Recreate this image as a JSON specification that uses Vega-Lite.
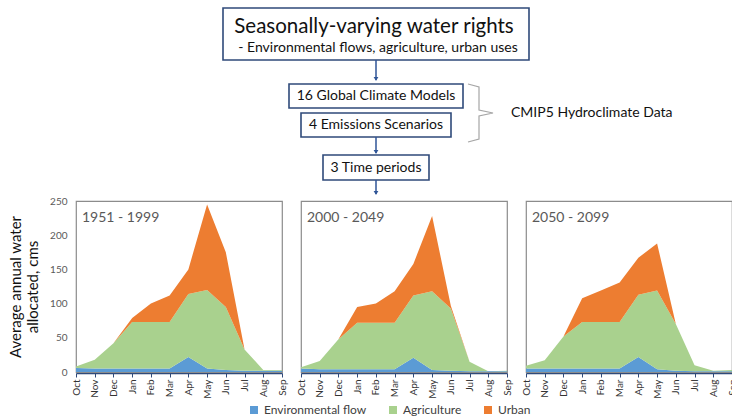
{
  "$schema": "https://vega.github.io/schema/vega-lite/v6.json",
  "background": "white",
  "padding": {"left": 8, "top": 0, "right": 2, "bottom": 2},
  "config": {"font": "Lato", "view": {"stroke": "#8c8c8c", "strokeWidth": 1.2}},
  "datasets": {
    "boxes": [
      {"name": "rights", "x0": 147, "x1": 453, "y0": 8, "y1": 60},
      {"name": "gcm", "x0": 213, "x1": 387, "y0": 84, "y1": 108},
      {"name": "emis", "x0": 225, "x1": 375, "y0": 113, "y1": 137},
      {"name": "time", "x0": 247, "x1": 353, "y0": 155, "y1": 180}
    ],
    "arrows": [
      {"x": 300, "y0": 60, "y1": 80, "head": 79},
      {"x": 300, "y0": 137, "y1": 153, "head": 152},
      {"x": 300, "y0": 180, "y1": 194, "head": 193}
    ],
    "bracket": [
      {"i": 1, "x": 392, "y": 84},
      {"i": 2, "x": 403, "y": 87},
      {"i": 3, "x": 403, "y": 110},
      {"i": 4, "x": 417, "y": 113},
      {"i": 5, "x": 403, "y": 116},
      {"i": 6, "x": 403, "y": 139},
      {"i": 7, "x": 392, "y": 142}
    ],
    "nodes": [
      {"kind": "title", "label": "Seasonally-varying water rights", "x": 298, "y": 27},
      {"kind": "sub", "label": "- Environmental flows, agriculture, urban uses", "x": 302, "y": 48},
      {"kind": "box", "label": "16 Global Climate Models", "x": 300, "y": 96},
      {"kind": "box", "label": "4 Emissions Scenarios", "x": 300, "y": 125},
      {"kind": "box", "label": "3 Time periods", "x": 300, "y": 168},
      {"kind": "note", "label": "CMIP5 Hydroclimate Data", "x": 435, "y": 113}
    ],
    "alloc": [
      {"p": "1951 - 1999", "m": "Oct", "Environmental flow": 6, "Agriculture": 2, "Urban": 0},
      {"p": "1951 - 1999", "m": "Nov", "Environmental flow": 5, "Agriculture": 13, "Urban": 0},
      {"p": "1951 - 1999", "m": "Dec", "Environmental flow": 5, "Agriculture": 37, "Urban": 0},
      {"p": "1951 - 1999", "m": "Jan", "Environmental flow": 5, "Agriculture": 68, "Urban": 6},
      {"p": "1951 - 1999", "m": "Feb", "Environmental flow": 5, "Agriculture": 68, "Urban": 27},
      {"p": "1951 - 1999", "m": "Mar", "Environmental flow": 5, "Agriculture": 68, "Urban": 39},
      {"p": "1951 - 1999", "m": "Apr", "Environmental flow": 22, "Agriculture": 92, "Urban": 36},
      {"p": "1951 - 1999", "m": "May", "Environmental flow": 5, "Agriculture": 115, "Urban": 125},
      {"p": "1951 - 1999", "m": "Jun", "Environmental flow": 3, "Agriculture": 92, "Urban": 80},
      {"p": "1951 - 1999", "m": "Jul", "Environmental flow": 2, "Agriculture": 31, "Urban": 0},
      {"p": "1951 - 1999", "m": "Aug", "Environmental flow": 2, "Agriculture": 1, "Urban": 0},
      {"p": "1951 - 1999", "m": "Sep", "Environmental flow": 2, "Agriculture": 1, "Urban": 0},
      {"p": "2000 - 2049", "m": "Oct", "Environmental flow": 5, "Agriculture": 2, "Urban": 0},
      {"p": "2000 - 2049", "m": "Nov", "Environmental flow": 4, "Agriculture": 12, "Urban": 0},
      {"p": "2000 - 2049", "m": "Dec", "Environmental flow": 4, "Agriculture": 44, "Urban": 0},
      {"p": "2000 - 2049", "m": "Jan", "Environmental flow": 4, "Agriculture": 68, "Urban": 23},
      {"p": "2000 - 2049", "m": "Feb", "Environmental flow": 4, "Agriculture": 68, "Urban": 28},
      {"p": "2000 - 2049", "m": "Mar", "Environmental flow": 4, "Agriculture": 68, "Urban": 46},
      {"p": "2000 - 2049", "m": "Apr", "Environmental flow": 21, "Agriculture": 91, "Urban": 46},
      {"p": "2000 - 2049", "m": "May", "Environmental flow": 3, "Agriculture": 115, "Urban": 110},
      {"p": "2000 - 2049", "m": "Jun", "Environmental flow": 2, "Agriculture": 91, "Urban": 4},
      {"p": "2000 - 2049", "m": "Jul", "Environmental flow": 1, "Agriculture": 14, "Urban": 0},
      {"p": "2000 - 2049", "m": "Aug", "Environmental flow": 1, "Agriculture": 0, "Urban": 0},
      {"p": "2000 - 2049", "m": "Sep", "Environmental flow": 1, "Agriculture": 1, "Urban": 0},
      {"p": "2050 - 2099", "m": "Oct", "Environmental flow": 5, "Agriculture": 4, "Urban": 0},
      {"p": "2050 - 2099", "m": "Nov", "Environmental flow": 5, "Agriculture": 12, "Urban": 0},
      {"p": "2050 - 2099", "m": "Dec", "Environmental flow": 5, "Agriculture": 47, "Urban": 0},
      {"p": "2050 - 2099", "m": "Jan", "Environmental flow": 5, "Agriculture": 68, "Urban": 35},
      {"p": "2050 - 2099", "m": "Feb", "Environmental flow": 5, "Agriculture": 68, "Urban": 46},
      {"p": "2050 - 2099", "m": "Mar", "Environmental flow": 5, "Agriculture": 68, "Urban": 58},
      {"p": "2050 - 2099", "m": "Apr", "Environmental flow": 22, "Agriculture": 91, "Urban": 54},
      {"p": "2050 - 2099", "m": "May", "Environmental flow": 4, "Agriculture": 115, "Urban": 69},
      {"p": "2050 - 2099", "m": "Jun", "Environmental flow": 2, "Agriculture": 68, "Urban": 0},
      {"p": "2050 - 2099", "m": "Jul", "Environmental flow": 1, "Agriculture": 9, "Urban": 0},
      {"p": "2050 - 2099", "m": "Aug", "Environmental flow": 1, "Agriculture": 1, "Urban": 0},
      {"p": "2050 - 2099", "m": "Sep", "Environmental flow": 1, "Agriculture": 2, "Urban": 0}
    ]
  },
  "spacing": 0,
  "vconcat": [
    {
      "width": 652,
      "height": 191,
      "view": {"stroke": null},
      "layer": [
        {
          "data": {"name": "boxes"},
          "mark": {"type": "rect", "fill": "white", "stroke": "#2F4A7A", "strokeWidth": 1.6},
          "encoding": {
            "x": {"field": "x0", "type": "quantitative", "scale": {"domain": [0, 652], "nice": false, "zero": false}, "axis": null},
            "x2": {"field": "x1"},
            "y": {"field": "y0", "type": "quantitative", "scale": {"domain": [0, 191], "nice": false, "zero": false, "reverse": true}, "axis": null},
            "y2": {"field": "y1"}
          }
        },
        {
          "data": {"name": "arrows"},
          "mark": {"type": "rule", "color": "#2F5597", "strokeWidth": 1.5},
          "encoding": {
            "x": {"field": "x", "type": "quantitative", "scale": {"domain": [0, 652], "nice": false, "zero": false}, "axis": null},
            "y": {"field": "y0", "type": "quantitative", "scale": {"domain": [0, 191], "nice": false, "zero": false, "reverse": true}, "axis": null},
            "y2": {"field": "y1"}
          }
        },
        {
          "data": {"name": "arrows"},
          "mark": {"type": "point", "shape": "triangle-down", "filled": true, "color": "#2F5597", "size": 22, "opacity": 1},
          "encoding": {
            "x": {"field": "x", "type": "quantitative", "scale": {"domain": [0, 652], "nice": false, "zero": false}, "axis": null},
            "y": {"field": "head", "type": "quantitative", "scale": {"domain": [0, 191], "nice": false, "zero": false, "reverse": true}, "axis": null}
          }
        },
        {
          "data": {"name": "bracket"},
          "mark": {"type": "line", "color": "#A6A6A6", "strokeWidth": 1.2},
          "encoding": {
            "x": {"field": "x", "type": "quantitative", "scale": {"domain": [0, 652], "nice": false, "zero": false}, "axis": null},
            "y": {"field": "y", "type": "quantitative", "scale": {"domain": [0, 191], "nice": false, "zero": false, "reverse": true}, "axis": null},
            "order": {"field": "i"}
          }
        },
        {
          "data": {"name": "nodes"},
          "transform": [{"filter": "datum.kind === 'title'"}],
          "mark": {"type": "text", "fontSize": 20.5, "color": "#111111", "baseline": "middle", "align": "center"},
          "encoding": {
            "x": {"field": "x", "type": "quantitative", "scale": {"domain": [0, 652], "nice": false, "zero": false}, "axis": null},
            "y": {"field": "y", "type": "quantitative", "scale": {"domain": [0, 191], "nice": false, "zero": false, "reverse": true}, "axis": null},
            "text": {"field": "label"}
          }
        },
        {
          "data": {"name": "nodes"},
          "transform": [{"filter": "datum.kind === 'sub'"}],
          "mark": {"type": "text", "fontSize": 14, "color": "#111111", "baseline": "middle", "align": "center"},
          "encoding": {
            "x": {"field": "x", "type": "quantitative", "scale": {"domain": [0, 652], "nice": false, "zero": false}, "axis": null},
            "y": {"field": "y", "type": "quantitative", "scale": {"domain": [0, 191], "nice": false, "zero": false, "reverse": true}, "axis": null},
            "text": {"field": "label"}
          }
        },
        {
          "data": {"name": "nodes"},
          "transform": [{"filter": "datum.kind === 'box'"}],
          "mark": {"type": "text", "fontSize": 14, "color": "#111111", "baseline": "middle", "align": "center"},
          "encoding": {
            "x": {"field": "x", "type": "quantitative", "scale": {"domain": [0, 652], "nice": false, "zero": false}, "axis": null},
            "y": {"field": "y", "type": "quantitative", "scale": {"domain": [0, 191], "nice": false, "zero": false, "reverse": true}, "axis": null},
            "text": {"field": "label"}
          }
        },
        {
          "data": {"name": "nodes"},
          "transform": [{"filter": "datum.kind === 'note'"}],
          "mark": {"type": "text", "fontSize": 14, "color": "#111111", "baseline": "middle", "align": "left"},
          "encoding": {
            "x": {"field": "x", "type": "quantitative", "scale": {"domain": [0, 652], "nice": false, "zero": false}, "axis": null},
            "y": {"field": "y", "type": "quantitative", "scale": {"domain": [0, 191], "nice": false, "zero": false, "reverse": true}, "axis": null},
            "text": {"field": "label"}
          }
        }
      ]
    },
    {
      "data": {"name": "alloc"},
      "transform": [
        {"fold": ["Environmental flow", "Agriculture", "Urban"], "as": ["use", "value"]},
        {"window": [{"op": "row_number", "as": "k"}], "groupby": ["p", "m"]}
      ],
      "facet": {"column": {"field": "p", "type": "nominal", "header": null}},
      "spacing": {"column": 17},
      "spec": {
        "width": 206,
        "height": 171,
        "layer": [
          {
            "mark": {"type": "area", "opacity": 1},
            "encoding": {
              "x": {
                "field": "m", "type": "ordinal",
                "sort": ["Oct", "Nov", "Dec", "Jan", "Feb", "Mar", "Apr", "May", "Jun", "Jul", "Aug", "Sep"],
                "scale": {"type": "point", "padding": 0},
                "axis": {"title": null, "labelAngle": -90, "labelFontSize": 10, "labelColor": "#333333", "domainColor": "#2F4A7A", "domainWidth": 1.5, "tickColor": "#2F4A7A", "tickSize": 4, "labelPadding": 2, "grid": false}
              },
              "y": {
                "field": "value", "type": "quantitative", "stack": "zero",
                "scale": {"domain": [0, 250], "nice": false},
                "axis": {"values": [0, 50, 100, 150, 200, 250], "tickCount": 6, "labelOverlap": false, "title": ["Average annual water", "allocated, cms"], "titleFontSize": 15, "titleFontWeight": "normal", "titleColor": "#111111", "labelFontSize": 10, "labelColor": "#595959", "ticks": false, "domain": false, "grid": false, "labelPadding": 8, "titlePadding": 9}
              },
              "order": {"field": "k", "type": "quantitative"},
              "color": {
                "field": "use", "type": "nominal",
                "scale": {"domain": ["Environmental flow", "Agriculture", "Urban"], "range": ["#5B9BD5", "#A9D18E", "#ED7D31"]},
                "legend": {"title": null, "orient": "none", "direction": "horizontal", "legendX": 172, "legendY": 404, "symbolType": "square", "symbolSize": 64, "symbolStrokeWidth": 0, "labelFontSize": 12, "labelColor": "#404040", "columnPadding": 20, "labelOffset": 4}
              }
            }
          },
          {
            "transform": [{"aggregate": [{"op": "count", "as": "n"}], "groupby": ["p"]}],
            "mark": {"type": "text", "align": "left", "baseline": "middle", "dx": 6, "fontSize": 14, "color": "#595959"},
            "encoding": {
              "x": {"datum": "Oct", "type": "ordinal"},
              "y": {
                "datum": 225, "type": "quantitative",
                "axis": {"values": [0, 50, 100, 150, 200, 250], "tickCount": 6, "labelOverlap": false, "title": ["Average annual water", "allocated, cms"], "titleFontSize": 15, "titleFontWeight": "normal", "titleColor": "#111111", "labelFontSize": 10, "labelColor": "#595959", "ticks": false, "domain": false, "grid": false, "labelPadding": 8, "titlePadding": 9}
              },
              "text": {"field": "p"}
            }
          }
        ]
      }
    }
  ]
}
